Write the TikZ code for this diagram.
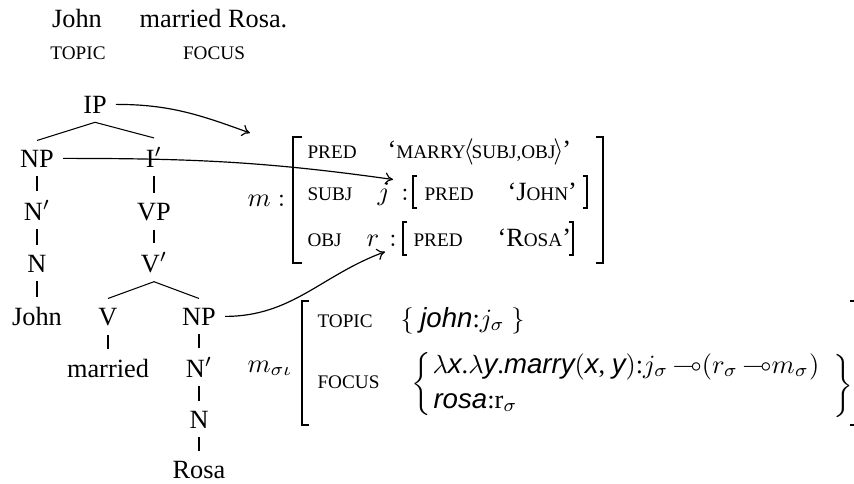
\documentclass[tikz,border=0pt]{standalone}
\usepackage{amssymb}
\usepackage{fontspec}
\setmainfont{Liberation Serif}
\newfontfamily\hvfont{Liberation Sans}
\newcommand\hvi[1]{{\fontsize{10.5}{13}\selectfont\hvfont\itshape #1}}
\newcommand\smc[1]{{\fontsize{7.3}{9}\selectfont #1}}
\newcommand\lolli{\,{\multimap}}
\usetikzlibrary{arrows.meta}
\begin{document}
\begin{tikzpicture}[x=0.38pt,y=-0.38pt]
\useasboundingbox (0,0) rectangle (854,483);
\tikzset{
 lab/.style={anchor=base},
 edge/.style={line width=0.4pt},
 arr/.style={line width=0.45pt,-{To[length=3pt,width=4.5pt]}},
 avm/.style={anchor=base west, inner sep=0pt},
 bigbr/.style={line width=0.8pt},
 smallbr/.style={line width=0.45pt},
}
% sentence
\node[lab] (sJohn) at (77,27) {John};
\node[lab] (sMR) at (213.5,27) {married Rosa.};
\node[lab] (sTop) at (78,59) {\smc{TOPIC}};
\node[lab] (sFoc) at (214,59) {\smc{FOCUS}};
% tree
\node[lab] (IP) at (95,113) {IP};
\node[lab] (NP) at (37,167) {NP};
\node[lab] (Ib) at (154,167) {I$'$};
\node[lab] (Nb) at (37,220) {N$'$};
\node[lab] (VP) at (154,220) {VP};
\node[lab] (N) at (37,272) {N};
\node[lab] (Vb) at (154,272) {V$'$};
\node[lab] (John) at (37,325) {John};
\node[lab] (V) at (108,325) {V};
\node[lab] (NPb) at (199,325) {NP};
\node[lab] (married) at (108,377) {married};
\node[lab] (Nbb) at (199,377) {N$'$};
\node[lab] (Nr) at (199,428) {N};
\node[lab] (Rosa) at (199,478) {Rosa};
\draw[edge] (IP.south) -- (NP.north);
\draw[edge] (IP.south) -- (Ib.north);
\draw[edge] (NP.south) -- (Nb.north);
\draw[edge] (Nb.south) -- (N.north);
\draw[edge] (N.south) -- (John.north);
\draw[edge] (Ib.south) -- (VP.north);
\draw[edge] (VP.south) -- (Vb.north);
\draw[edge] (Vb.south) -- (V.north);
\draw[edge] (Vb.south) -- (NPb.north);
\draw[edge] (V.south) -- (married.north);
\draw[edge] (NPb.south) -- (Nbb.north);
\draw[edge] (Nbb.south) -- (Nr.north);
\draw[edge] (Nr.south) -- (Rosa.north);
% f-structure
\node[avm] (mlab) at (247,206) {$m:$};
\draw[bigbr] (302,137) -- (293,137) -- (293,263) -- (302,263);
\draw[bigbr] (596,137) -- (603,137) -- (603,263) -- (596,263);
\node[avm] (p1) at (307,158) {\smc{PRED}};
\node[avm] (v1) at (387,158) {`\smc{MARRY}\kern-0.8pt$\langle$\kern-0.8pt\smc{SUBJ,OBJ}\kern-0.8pt$\rangle$\kern-0.5pt'};
\node[avm] (s2) at (307,200) {\smc{SUBJ}};
\node[anchor=base east, inner sep=1pt] (j) at (393,200) {$j$};
\node[anchor=base, inner sep=0pt] (c2) at (405,200) {$:$};
\draw[smallbr] (417,176) -- (413,176) -- (413,208) -- (417,208);
\node[avm] (p2) at (424,200) {\smc{PRED}};
\node[avm] (v2) at (507,200) {`J\smc{OHN}'};
\draw[smallbr] (583,176) -- (587,176) -- (587,208) -- (583,208);
\node[avm] (o3) at (307,246) {\smc{OBJ}};
\node[anchor=base east, inner sep=2pt] (r) at (385,246) {$r$};
\node[anchor=base, inner sep=0pt] (c3) at (393,246) {$:$};
\draw[smallbr] (407,222) -- (403,222) -- (403,255) -- (407,255);
\node[avm] (p3) at (413,246) {\smc{PRED}};
\node[avm] (v3) at (497,246) {`R\smc{OSA}'};
\draw[smallbr] (569,222) -- (573,222) -- (573,255) -- (569,255);
% i-structure
\node[avm] (m2) at (247,372) {$m_{\sigma\iota}$};
\draw[bigbr] (309,301) -- (302,301) -- (302,425) -- (309,425);
\node[avm] (tp) at (317,327) {\smc{TOPIC}};
\node[avm] (tv) at (400,327) {$\{$\ \hvi{john}:$j_\sigma$ $\}$};
\node[avm] (fc) at (317,388) {\smc{FOCUS}};
\node[inner sep=0pt, anchor=west] (lb) at (411,384) {$\left\{\vrule height 14pt depth 9pt width 0pt\right.$};
\node[avm] (f1) at (432,373) {$\lambda$\hvi{x}.$\lambda$\hvi{y}.\hvi{marry}$($\hvi{x}, \hvi{y}$)$:$j_\sigma\lolli(r_\sigma\lolli m_\sigma)$};
\node[avm] (f2) at (433,408) {\hvi{rosa}:$\mathrm{r}_\sigma$};
\node[inner sep=0pt, anchor=west] (rb) at (830,386) {$\left.\vrule height 14pt depth 9pt width 0pt\right\}$};
\draw[bigbr] (850,301) -- (856,301);
\draw[bigbr] (850,425) -- (856,425);
% arrows
\coordinate (ipT) at (250,133);
\draw[arr] (IP.east) to[out=0,in=160] (ipT);
\draw[arr] (NP.east) to[out=0,in=172] (j.north east);
\draw[arr] (NPb.east) to[out=0,in=200] (r.south east);
\end{tikzpicture}
\end{document}
